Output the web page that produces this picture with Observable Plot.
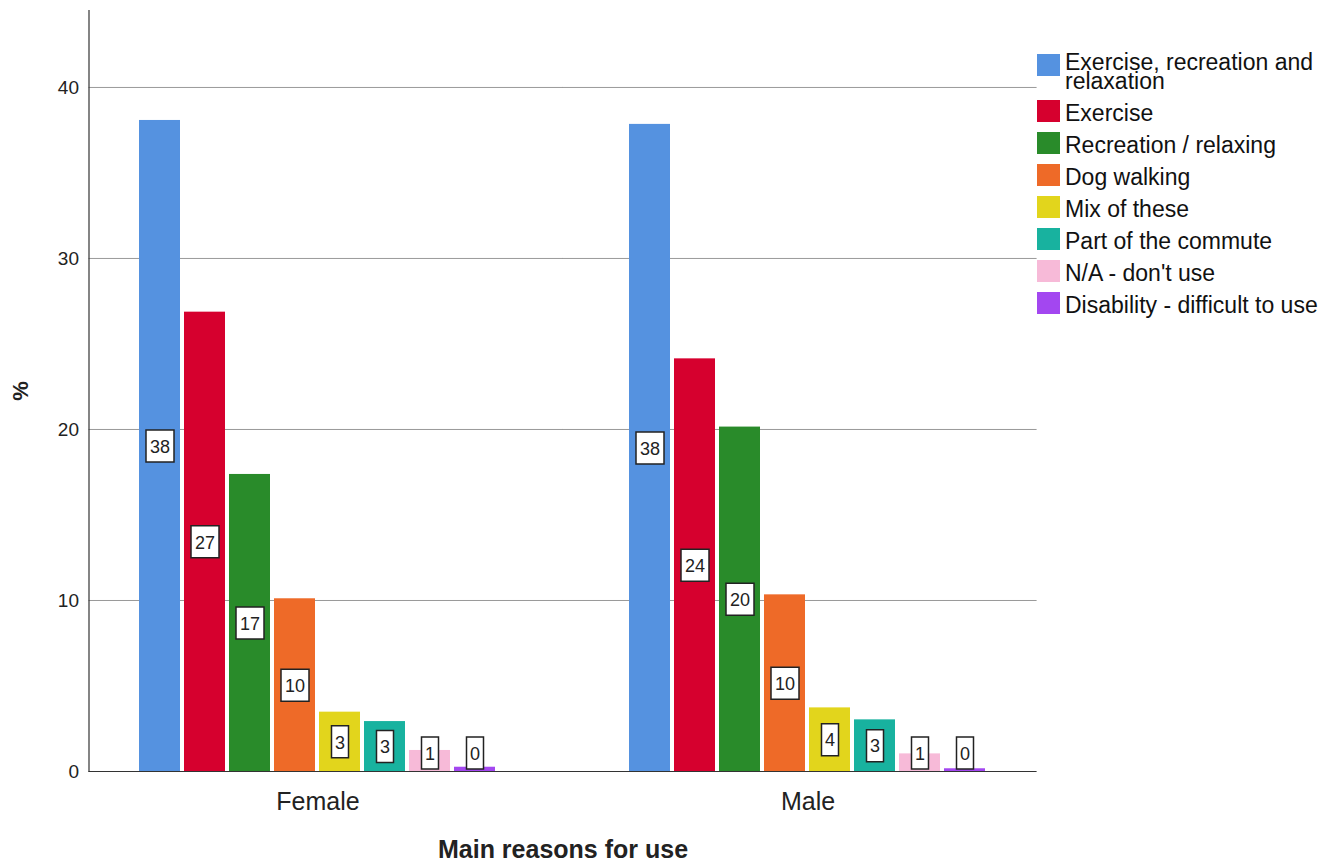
<!DOCTYPE html>
<html>
<head>
<meta charset="utf-8">
<script src="https://cdn.jsdelivr.net/npm/d3@7"></script>
<script src="https://cdn.jsdelivr.net/npm/@observablehq/plot@0.6"></script>
<style>
  body { margin: 0; background: #fff; font-family: "Liberation Sans", Arial, sans-serif; }
  #wrap { display: flex; width: 1338px; height: 867px; }
  #chart svg { display: block; }
  #legend { padding-top: 52.5px; width: 301px; }
  .item { display: flex; align-items: flex-start; margin-bottom: 13px; font-size: 23px; line-height: 19px; color: #111; }
  .sw { width: 23px; height: 22px; margin-right: 5px; flex: none; margin-top: -3.5px; }
  .item.first .sw { margin-top: 1.5px; }
</style>
</head>
<body>
<div id="wrap"><div id="chart"></div><div id="legend"></div></div>
<script>
const sexes = ["Female", "Male"];
const reasons = [
  "Exercise, recreation and relaxation",
  "Exercise",
  "Recreation / relaxing",
  "Dog walking",
  "Mix of these",
  "Part of the commute",
  "N/A - don't use",
  "Disability - difficult to use"
];
const colors = ["#5592E0", "#D6002E", "#298B2A", "#EE6A28", "#E2D51C", "#18B29F", "#F7BAD8", "#A347F0"];
const femalePct = [38.07, 26.86, 17.37, 10.10, 3.47, 2.92, 1.23, 0.25];
const malePct   = [37.84, 24.13, 20.14, 10.33, 3.72, 3.02, 1.03, 0.16];
const yTicks = [0, 10, 20, 30, 40];

const series = {Female: femalePct, Male: malePct};
const data = sexes.flatMap(s => reasons.map((r, j) => ({sex: s, reason: r, pct: series[s][j], label: String(Math.round(series[s][j]))})));
const gridRows = sexes.flatMap(s => yTicks.map(v => ({sex: s, v})));

const boxSym = (w, h) => ({ draw(ctx) { ctx.rect(-w / 2, -h / 2, w, h); } });
const labelY = d => Math.max(d.pct / 2, 1.08);

// extend per-facet rules across the gaps between facets so lines look continuous
const ext = {Female: {insetLeft: -49.5, insetRight: -66}, Male: {insetLeft: -66, insetRight: -49.6}};
const ruleMarks = sexes.flatMap(s => [
  Plot.ruleY(gridRows.filter(d => d.sex === s && d.v > 0), {fx: "sex", y: "v", stroke: "#999", strokeWidth: 1, ...ext[s]}),
  Plot.ruleY(gridRows.filter(d => d.sex === s && d.v === 0), {fx: "sex", y: "v", stroke: "#333", strokeWidth: 1.2, ...ext[s]})
]);

const font = '"Liberation Sans", Arial, sans-serif';
const chart = Plot.plot({
  width: 1037,
  height: 867,
  marginLeft: 88,
  marginRight: 0,
  marginTop: 10,
  marginBottom: 96,
  style: {fontFamily: font, background: "#fff", color: "#222"},
  fx: {domain: sexes, paddingInner: 0.2673, paddingOuter: 0.101},
  x: {domain: reasons, paddingInner: 0.088, paddingOuter: 0, axis: null},
  y: {domain: [0, 44.5], axis: null},
  color: {domain: reasons, range: colors},
  marks: [
    ...ruleMarks.filter((m, i) => i % 2 === 0),
    Plot.barY(data, {fx: "sex", x: "reason", y: "pct", fill: "reason"}),
    ...ruleMarks.filter((m, i) => i % 2 === 1),
    Plot.frame({anchor: "left", facetAnchor: "left", stroke: "#333", strokeWidth: 1.2, dx: -49.5}),
    Plot.axisY({ticks: yTicks, tickSize: 0, tickPadding: 10, fontSize: 19, fill: "#222", dx: -49.5,
      label: "%", labelArrow: "none", labelAnchor: "center", labelOffset: 126}),
    Plot.axisFx({anchor: "bottom", tickSize: 0, tickPadding: 21, fontSize: 25, fill: "#222",
      label: "Main reasons for use", labelAnchor: "center", labelOffset: 86}),
    Plot.dot(data.filter(d => d.label.length > 1), {fx: "sex", x: "reason", y: labelY,
      symbol: boxSym(28, 32), fill: "#fff", stroke: "#222", strokeWidth: 1.5}),
    Plot.dot(data.filter(d => d.label.length === 1), {fx: "sex", x: "reason", y: labelY,
      symbol: boxSym(17, 32), fill: "#fff", stroke: "#222", strokeWidth: 1.5}),
    Plot.text(data, {fx: "sex", x: "reason", y: labelY, text: "label", fontSize: 18, fill: "#222", dy: 1})
  ]
});
document.getElementById("chart").appendChild(chart);

// style axis titles bold
chart.querySelectorAll("g[aria-label='y-axis label'] text, g[aria-label='fx-axis label'] text").forEach(t => {
  t.setAttribute("font-weight", "bold");
});
chart.querySelectorAll("g[aria-label='y-axis label'] text").forEach(t => { t.textContent = "%"; });
const yl = chart.querySelector("g[aria-label='y-axis label']");
if (yl) yl.setAttribute("font-size", "22");
const fl = chart.querySelector("g[aria-label='fx-axis label']");
if (fl) fl.setAttribute("font-size", "25");

const legend = document.getElementById("legend");
reasons.forEach((r, i) => {
  const item = document.createElement("div");
  item.className = "item" + (i === 0 ? " first" : "");
  const sw = document.createElement("div");
  sw.className = "sw";
  sw.style.background = colors[i];
  const tx = document.createElement("div");
  tx.textContent = r;
  item.appendChild(sw);
  item.appendChild(tx);
  legend.appendChild(item);
});
</script>
</body>
</html>
